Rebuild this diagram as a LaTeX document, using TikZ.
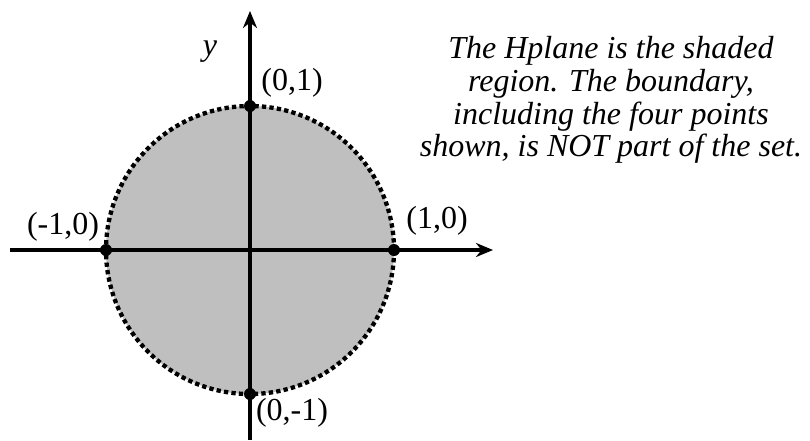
\documentclass[tikz,border=0pt]{standalone}
\usepackage{fontspec}
\setmainfont{Liberation Serif}
\usetikzlibrary{arrows.meta}

\begin{document}
\begin{tikzpicture}[x=1pt,y=1pt,font=\fontsize{32}{32.7}\selectfont,
  axis/.style={line width=3.8pt,-{Stealth[length=17pt,width=14pt]}},
  pt/.style={circle,fill=black,inner sep=0pt,minimum size=12pt}]
\useasboundingbox (-250,-190) rectangle (560,250);
\coordinate (O) at (0,0);
\coordinate (xl) at (-240,0); \coordinate (xr) at (243,0);
\coordinate (yb) at (0,-190); \coordinate (yt) at (0,239);
\fill[gray!50] (O) circle (144);
\draw[line width=4.3pt,dash pattern=on 4.3pt off 3.2pt] (O) circle (144);
\draw[axis] (xl)--(xr);
\draw[axis] (yb)--(yt);
\node[pt] (E) at (144,0) {}; \node[pt] (W) at (-144,0) {};
\node[pt] (N) at (0,144) {}; \node[pt] (S) at (0,-144) {};
\node (ylab) at (-40,198) {\itshape y};
\node (Nlab) at (42,167) {(0,1)};
\node (Wlab) at (-187,23) {(-1,0)};
\node (Elab) at (187,29) {(1,0)};
\node (Slab) at (42,-163) {(0,-1)};
\node[align=center,font=\fontsize{32}{32.7}\selectfont\itshape] (note) at (361,150)
  {The Hplane is the shaded\\ region. The boundary,\\ including the four points\\ shown, is NOT part of the set.};
\end{tikzpicture}
\end{document}
